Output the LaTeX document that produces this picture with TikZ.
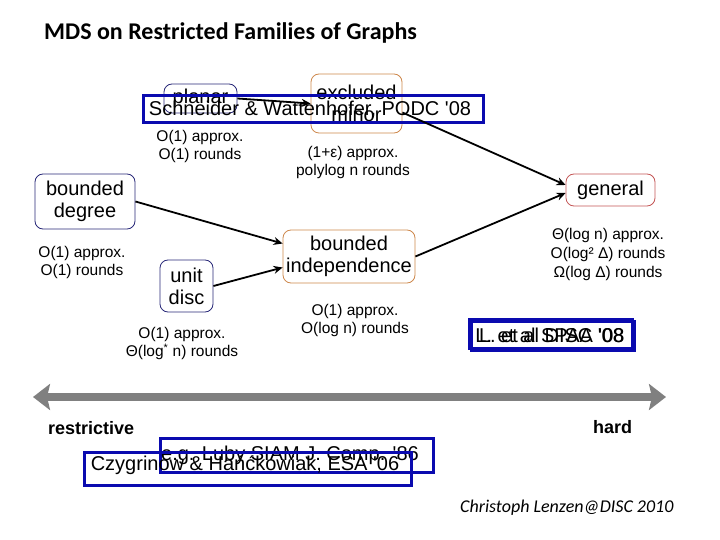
\documentclass[tikz,border=0pt]{standalone}
\usepackage{fontspec}
\setmainfont{Liberation Sans}
\newfontfamily\carlito{Carlito}
\usetikzlibrary{arrows.meta,calc}
\definecolor{boxblue}{RGB}{10,10,175}
\definecolor{navyb}{RGB}{40,40,120}
\definecolor{orab}{RGB}{205,135,75}
\definecolor{redb}{RGB}{195,85,85}
\definecolor{axisgray}{RGB}{128,128,128}
\tikzset{
  fam/.style={draw, rounded corners=8pt, line width=0.8pt, inner sep=0pt, align=center,
    font=\fontsize{20}{22}\selectfont},
  famnavy/.style={fam, draw=navyb},
  famora/.style={fam, draw=orab},
  famred/.style={fam, draw=redb},
  res/.style={align=center, inner sep=0pt, font=\fontsize{15.5}{18}\selectfont},
  refbox/.style={draw=boxblue, line width=3pt, inner sep=0pt, font=\fontsize{20}{22}\selectfont},
  reftext/.style={inner sep=0pt, font=\fontsize{20}{22}\selectfont},
  conn/.style={line width=1.8pt, -{Stealth[length=9pt,width=8pt]}},
}
\begin{document}
\begin{tikzpicture}[x=1pt,y=-1pt]
\useasboundingbox (0,0) rectangle (720,540);

% title
\node[anchor=west, inner sep=0pt, font=\carlito\bfseries\fontsize{24}{28}\selectfont] (title) at (44,33) {MDS on Restricted Families of Graphs};

% family nodes
\node[famnavy, minimum width=73pt, minimum height=29pt] (planar) at (200.5,98.5) {planar};
\node[famora, minimum width=91pt, minimum height=59pt] (excl) at (356.5,103.5) {excluded\\minor};
\node[famred, minimum width=89pt, minimum height=32pt] (general) at (610.5,190) {general};
\node[famnavy, minimum width=100pt, minimum height=55pt] (bdeg) at (85,201.5) {bounded\\degree};
\node[famnavy, minimum width=53pt, minimum height=52pt] (udisc) at (186.5,286) {unit\\disc};
\node[famora, minimum width=132pt, minimum height=53pt] (bind) at (349,256.5) {bounded\\independence};

% reference box over planar / excluded minor
\node[refbox, minimum width=340pt, minimum height=27pt] (schw) at (313,109.5) {};
\node[reftext] (schwt) at (310,110) {Schneider \& Wattenhofer, PODC \textquotesingle 08};

% result labels
\node[res] (planarres) at (200,146.5) {O(1) approx.\\O(1) rounds};
\node[res] (exclres) at (353,162) {(1+ε) approx.\\polylog n rounds};
\node[res] (bdegres) at (82,262) {O(1) approx.\\O(1) rounds};
\node[res] (udiscres) at (182,343.5) {O(1) approx.\\Θ(log\textsuperscript{*} n) rounds};
\node[res] (bindres) at (355,320) {O(1) approx.\\O(log n) rounds};
\node[res, font=\fontsize{15.5}{19}\selectfont] (genres) at (608,254) {Θ(log n) approx.\\O(log² Δ) rounds\\Ω(log Δ) rounds};

% connectors
\draw[conn] (planar.east) -- (excl.west);
\draw[conn] ($(excl.east)+(0,9)$) -- ($(general.west)+(0,-5)$);
\draw[conn] (bind.east) -- ($(general.west)+(0,3)$);
\draw[conn] (bdeg.east) -- ($(bind.west)+(0,-13)$);
\draw[conn] (udisc.east) -- ($(bind.west)+(0,11)$);

% L. et al boxes
\node[refbox, minimum width=163pt, minimum height=29pt] (spaa) at (550.5,333.5) {};
\node[refbox, minimum width=163pt, minimum height=29pt] (disc) at (553,336) {};
\node[reftext] (spaat) at (550,335) {L. et al SPAA \textquotesingle 08};
\node[reftext] (disct) at (551.5,335.5) {L. et al DISC \textquotesingle 08};

% axis
\coordinate (axl) at (33,397);
\coordinate (axr) at (666,397);
\draw[axisgray, line width=8pt, {Stealth[length=17pt,width=26pt,inset=3pt]}-{Stealth[length=17pt,width=26pt,inset=3pt]}] (axl) -- (axr);
\node[anchor=west, inner sep=0pt, font=\bfseries\fontsize{18}{20}\selectfont] (restr) at (48,428) {restrictive};
\node[anchor=west, inner sep=0pt, font=\bfseries\fontsize{18}{20}\selectfont] (hard) at (593,427) {hard};

% bottom references
\node[refbox, minimum width=273pt, minimum height=34pt] (luby) at (296.5,455) {};
\node[reftext] (lubyt) at (290,455) {e.g. Luby SIAM J. Comp. \textquotesingle 86};
\node[refbox, minimum width=327pt, minimum height=33pt] (czy) at (247.5,468.5) {};
\node[reftext] (czyt) at (245,465) {Czygrinow \& Hańćkowiak, ESA \textquotesingle 06};

% footer
\node[anchor=west, inner sep=0pt, font=\carlito\itshape\fontsize{18}{21}\selectfont] (footer) at (460,508) {Christoph Lenzen@DISC 2010};
\end{tikzpicture}
\end{document}
